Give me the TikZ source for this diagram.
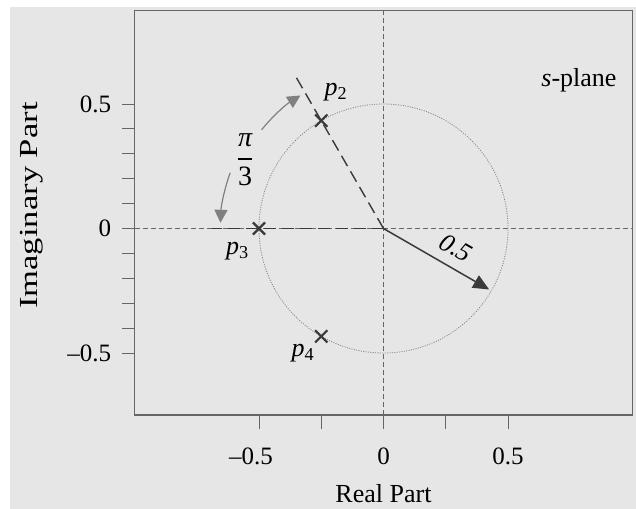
\documentclass[tikz,border=0pt]{standalone}
\usepackage{amsmath}
\usepackage{fontspec}
\setmainfont{Liberation Serif}
\usetikzlibrary{arrows.meta,shapes.misc}
\definecolor{panel}{HTML}{E6E6E6}
\definecolor{ink}{HTML}{3A3A3A}
\definecolor{framegray}{HTML}{666666}

\begin{document}
\begin{tikzpicture}[x=4.392cm, y=4.392cm, font=\fontsize{13bp}{15bp}\selectfont,
  plotbox/.style={draw=framegray, line width=0.8bp},
  tickln/.style={draw=framegray, line width=0.5bp},
  ticklab/.style={font=\fontsize{12.5bp}{14bp}\selectfont, inner sep=0pt},
  axisln/.style={draw=framegray, line width=0.5bp, dash pattern=on 2.5bp off 1.5bp},
  circln/.style={draw=gray, line width=0.4bp, dash pattern=on 0.5bp off 0.7bp},
  poleray/.style={draw=ink, line width=0.7bp, dash pattern=on 6bp off 3bp},
  polex/.style={cross out, draw=ink, line width=1.1bp, minimum size=5bp, inner sep=0pt},
  radarrow/.style={-{Triangle[length=8bp,width=7bp]}, draw=ink, line width=0.75bp},
  sweep/.style={-{Triangle[length=6.5bp,width=6.5bp]}, draw=gray, line width=0.6bp}]
% page and panel
\useasboundingbox (-1.5402,-1.1265) rectangle (1.0141,0.9177);
\fill[panel] (-1.4998,-1.1265) rectangle (1.0141,0.8896);
\coordinate (O) at (0,0);
\coordinate (BL) at (-1,-0.75);
\coordinate (TR) at (1,0.875);
% axes through the origin and the circle |s| = 0.5
\draw[axisln] (-1,0) -- (1,0);
\draw[axisln] (0,-0.75) -- (0,0.875);
\draw[circln] (O) circle[radius=0.5];
% rays to the poles
\coordinate (R2) at (120:0.72);
\coordinate (R3) at (180:0.69);
\draw[poleray] (O) -- (R2);
\draw[poleray] (O) -- (R3);
% poles
\node[polex] (P2) at (120:0.5) {};
\node[polex] (P3) at (180:0.5) {};
\node[polex] (P4) at (240:0.5) {};
\node (L2) at (-0.19,0.548)  {\textit{p}\textsubscript{2}};
\node (L3) at (-0.586,-0.09) {\textit{p}\textsubscript{3}};
\node (L4) at (-0.323,-0.5)  {\textit{p}\textsubscript{4}};
% radius arrow
\coordinate (A) at (-30:0.49);
\draw[radarrow] (O) -- (A);
\node[rotate=-30, inner sep=1pt] (rlab) at (0.292,-0.078) {\textit{0.5}};
% angle pi/3 between the rays
\coordinate (S1) at (141:0.63);
\coordinate (S2) at (160:0.655);
\draw[sweep] (S1) arc[start angle=141, end angle=122, radius=0.63];
\draw[sweep] (S2) arc[start angle=160, end angle=178, radius=0.655];
\node (ang) at (-0.556,0.275) {\fontsize{14bp}{16bp}\selectfont$\dfrac{\textit{π}}{\text{3}}$};
\node (plane) at (0.785,0.596) {\textit{s}-plane};
% frame, ticks and labels
\draw[plotbox] (BL) rectangle (TR);
\foreach \i in {-5,...,5}
  \draw[tickln] (-1,\i/10) -- ++(-0.052,0);
\foreach \x in {-0.5,-0.25,0,0.25,0.5}
  \draw[tickln] (\x,-0.75) -- ++(0,-0.055);
\foreach \y/\t [count=\k] in {0.5/0.5, 0/0, -0.5/–0.5}
  \node[ticklab, anchor=east] (yt\k) at (-1.092,\y) {\t};
\foreach \x/\t [count=\k] in {-0.532/–0.5, 0/0, 0.5/0.5}
  \node[ticklab] (xt\k) at (\x,-0.914) {\t};
\node (xlab) at (0,-1.064) {Real Part};
\node[rotate=90] (ylab) at (-1.412,0.092) {\scalebox{1.33}[1]{Imaginary Part}};
\end{tikzpicture}
\end{document}
